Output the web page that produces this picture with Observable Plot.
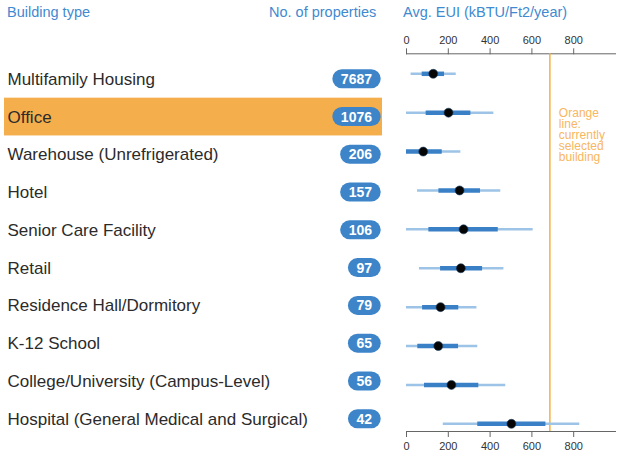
<!DOCTYPE html>
<html>
<head>
<meta charset="utf-8">
<script src="https://cdn.jsdelivr.net/npm/d3@7"></script>
<script src="https://cdn.jsdelivr.net/npm/@observablehq/plot@0.6"></script>
<style>
  html, body { margin: 0; padding: 0; background: #fff; }
  body { width: 618px; height: 451px; overflow: hidden; font-family: "Liberation Sans", Arial, sans-serif; }
  #header { position: relative; height: 26px; color: #3f8ad0; font-size: 14.5px; line-height: 16px; }
  #header span { position: absolute; top: 4px; white-space: nowrap; }
  #wrap { position: relative; width: 618px; height: 425px; }
  #wrap svg { position: absolute; left: 0; top: 0; }
</style>
</head>
<body>
<div id="header">
  <span style="left:7px">Building type</span>
  <span style="left:269px">No. of properties</span>
  <span style="left:403px">Avg. EUI (kBTU/Ft2/year)</span>
</div>
<div id="wrap"></div>
<script>
// ---- data ----
const buildingTypes = [
  "Multifamily Housing",
  "Office",
  "Warehouse (Unrefrigerated)",
  "Hotel",
  "Senior Care Facility",
  "Retail",
  "Residence Hall/Dormitory",
  "K-12 School",
  "College/University (Campus-Level)",
  "Hospital (General Medical and Surgical)"
];
const propertyCounts = [7687, 1076, 206, 157, 106, 97, 79, 65, 56, 42];
const euiLow    = [22,   0,   0,  53,   0,  62,   0,   0,   0, 176];
const euiQ1     = [75,  94,   0, 155, 107, 163,  77,  54,  86, 341];
const euiMedian = [128, 201, 80, 254, 273, 260, 163, 152, 215, 502];
const euiQ3     = [182, 308, 171, 354, 439, 364, 250, 249, 346, 667];
const euiHigh   = [238, 418, 260, 451, 606, 466, 337, 341, 475, 829];
const euiDomain = [0, 1000];
const euiTicks = [0, 200, 400, 600, 800];
const selectedBuildingType = "Office";
const selectedEUI = 686;
const noteText = "Orange\nline:\ncurrently\nselected\nbuilding";

const rows = buildingTypes.map((name, i) => ({
  name, count: propertyCounts[i],
  lo: euiLow[i], q1: euiQ1[i], med: euiMedian[i], q3: euiQ3[i], hi: euiHigh[i]
}));

const FONT = "Liberation Sans, Arial, sans-serif";
const wrap = document.getElementById("wrap");

// ---- right panel: EUI distributions ----
const right = Plot.plot({
  width: 618,
  height: 425,
  marginLeft: 406,
  marginRight: 3,
  marginTop: 27.3,
  marginBottom: 20,
  style: {fontFamily: FONT, fontSize: "11px", background: "transparent", overflow: "visible", color: "#333"},
  x: {domain: euiDomain},
  y: {type: "point", domain: buildingTypes, padding: 0, round: false, insetTop: 20, insetBottom: 7.7, axis: null},
  marks: [
    Plot.frame({anchor: "top", stroke: "#666"}),
    Plot.frame({anchor: "bottom", stroke: "#666"}),
    Plot.axisX({anchor: "top", ticks: euiTicks, tickSize: 6, tickPadding: 4, label: null, stroke: "#666"}),
    Plot.axisX({anchor: "bottom", ticks: euiTicks, tickSize: 6, tickPadding: 5, label: null, stroke: "#666"}),
    Plot.ruleX([selectedEUI], {x: d => d, stroke: "#f6b144", strokeWidth: 1.5}),
    Plot.text([noteText], {x: () => selectedEUI, y: () => selectedBuildingType, text: d => d,
      dx: 9, dy: -3, textAnchor: "start", lineAnchor: "top", lineHeight: 0.9, fontSize: 12, fill: "#f8b65e"}),
    Plot.ruleY(rows, {y: "name", x1: "lo", x2: "hi", stroke: "#9dc3e6", strokeWidth: 2.5}),
    Plot.ruleY(rows, {y: "name", x1: "q1", x2: "q3", stroke: "#3a80c6", strokeWidth: 4.5}),
    Plot.dot(rows, {x: "med", y: "name", r: 4.5, fill: "#050505", stroke: "#1d3f66", strokeWidth: 0.6})
  ]
});
wrap.appendChild(right);

// ---- left panel: building type labels and counts ----
const left = Plot.plot({
  width: 390,
  height: 425,
  marginLeft: 4,
  marginRight: 8,
  marginTop: 33.9,
  marginBottom: 13.4,
  style: {fontFamily: FONT, background: "transparent", overflow: "visible"},
  y: {type: "band", domain: buildingTypes, padding: 0, round: false, axis: null},
  marks: [
    Plot.cell(rows.filter(d => d.name === selectedBuildingType), {y: "name", fill: "#f4ae4b"}),
    Plot.text(rows, {y: "name", text: "name", frameAnchor: "left", dx: 3, textAnchor: "start",
      fontSize: 17, fill: "#2b2b2b"}),
    Plot.text(rows, {y: "name", text: d => String(d.count), frameAnchor: "right", dx: -10.5, textAnchor: "end",
      fontSize: 14, fontWeight: "bold", fill: "#ffffff"})
  ]
});
wrap.appendChild(left);

// pill backgrounds behind the count labels
const textGroups = left.querySelectorAll('g[aria-label="text"]');
const pillGroup = textGroups[textGroups.length - 1];
pillGroup.querySelectorAll("text").forEach(t => {
  const b = t.getBBox();
  const h = 19;
  const cy = b.y + b.height / 2;
  const r = document.createElementNS("http://www.w3.org/2000/svg", "rect");
  r.setAttribute("x", b.x - 8.5);
  r.setAttribute("y", cy - h / 2);
  r.setAttribute("width", b.width + 17);
  r.setAttribute("height", h);
  r.setAttribute("rx", h / 2);
  r.setAttribute("fill", "#3d85c8");
  const tr = t.getAttribute("transform");
  if (tr) r.setAttribute("transform", tr);
  t.parentNode.insertBefore(r, t);
});
</script>
</body>
</html>
